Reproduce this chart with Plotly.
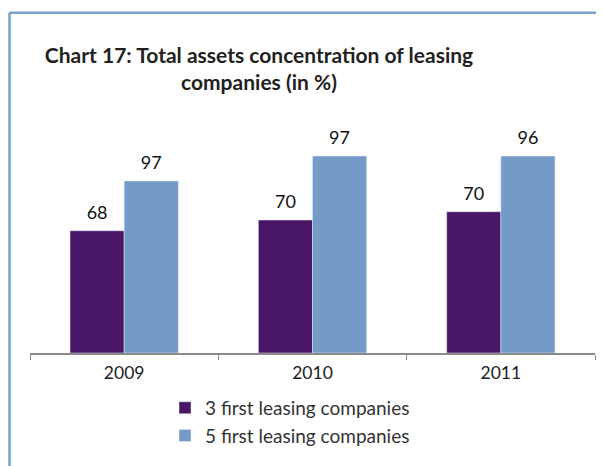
import plotly.graph_objects as go

years = ["2009", "2010", "2011"]
series_names = ["3 first leasing companies", "5 first leasing companies"]
# printed data labels
labels_3 = [68, 70, 70]
labels_5 = [97, 97, 96]
# bar heights as drawn in the picture (picture's own scale)
heights_3 = [60.4, 65.7, 69.8]
heights_5 = [85.0, 97.3, 97.3]
colors = ["#4A1768", "#749AC7"]

FONT = "Lato, sans-serif"
W, H = 596, 458  # page body adds an 8px offset

fig = go.Figure()
for name, h, lab, c, og in [(series_names[0], heights_3, labels_3, colors[0], "a"),
                            (series_names[1], heights_5, labels_5, colors[1], "b")]:
    fig.add_trace(go.Bar(x=years, y=h, name=name, marker_color=c, offsetgroup=og,
                         textposition="none", hoverinfo="skip"))
for h, lab, og in [(heights_3, labels_3, "a"), (heights_5, labels_5, "b")]:
    fig.add_trace(go.Scatter(x=years, y=h, mode="markers+text", text=[str(v) for v in lab],
                             textposition="top center", offsetgroup=og,
                             marker=dict(size=10, opacity=0),
                             textfont=dict(family=FONT, size=18, color="#111"),
                             showlegend=False, cliponaxis=False, hoverinfo="skip"))

fig.update_layout(
    width=W, height=H,
    margin=dict(l=22, r=9, t=92, b=113, autoexpand=False),
    paper_bgcolor="white", plot_bgcolor="white",
    barmode="group", bargap=0.425, bargroupgap=0,
    scattermode="group", scattergap=0.425,
    font=dict(family=FONT, color="#222"),
    title=dict(text="<b>Chart 17: Total assets concentration of leasing<br>companies (in %)</b>",
               x=251/W, xanchor="center", y=1-55/H, yanchor="top",
               font=dict(family=FONT, size=21, color="#231F20")),
    xaxis=dict(showline=True, linecolor="#8a8a8a", linewidth=1.5, ticks="outside",
               tickson="boundaries", ticklen=5, tickcolor="#8a8a8a", ticklabelstandoff=3,
               tickfont=dict(family=FONT, size=17.5, color="#222"), showgrid=False),
    yaxis=dict(range=[0, 125], visible=False),
    legend=dict(x=(157-22)/565, xanchor="left", y=-0.142, yanchor="top",
                font=dict(family=FONT, size=19, color="#333"), itemwidth=30,
                tracegroupgap=0),
    shapes=[
        dict(type="line", xref="paper", yref="paper", x0=(1.5-22)/565, x1=1.05,
             y0=(345-4.7)/253, y1=(345-4.7)/253, line=dict(color="#7BA0CC", width=2.5)),
        dict(type="line", xref="paper", yref="paper", x0=(1.5-22)/565, x1=(1.5-22)/565,
             y0=(345-4.7)/253, y1=-0.6, line=dict(color="#7BA0CC", width=2.5)),
    ],
)

fig.write_html("out.html")
